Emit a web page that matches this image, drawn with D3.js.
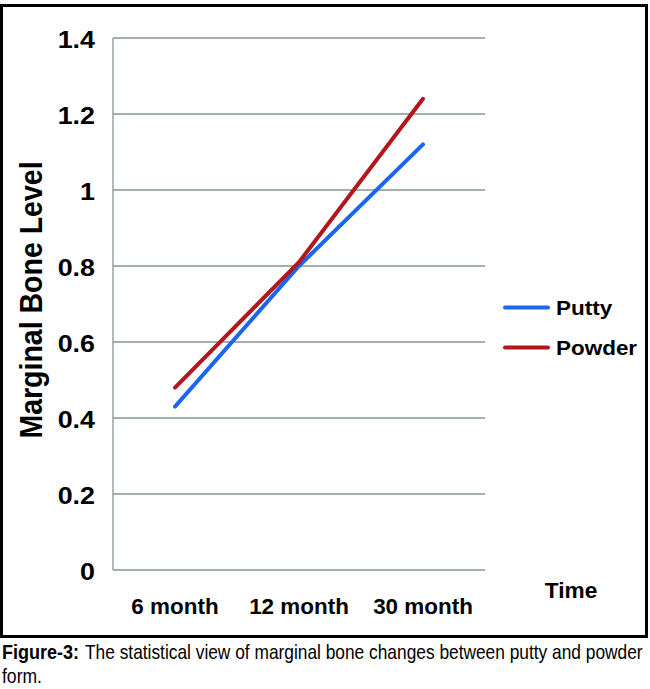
<!DOCTYPE html>
<html><head><meta charset="utf-8">
<script src="https://cdn.jsdelivr.net/npm/d3@7"></script>
<style>html,body{margin:0;padding:0;background:#fff;}svg{display:block;}</style>
</head><body>
<svg id="c" width="650" height="689"></svg>
<script>
const categories = ["6 month", "12 month", "30 month"];
const putty = [0.43, 0.80, 1.12];
const powder = [0.48, 0.81, 1.24];
const yTicks = [0, 0.2, 0.4, 0.6, 0.8, 1, 1.2, 1.4];
const seriesNames = ["Putty", "Powder"];
const seriesColors = ["#1a66f0", "#b3161c"];

(function () {
const svg = d3.select("#c");
const FONT = "'Liberation Sans', Arial, Helvetica, sans-serif";
const pLeft = 113, pRight = 485, pTop = 38, pBottom = 570;

const x = d3.scalePoint().domain(categories).range([pLeft, pRight]).padding(0.5);
const y = d3.scaleLinear().domain([0, 1.4]).range([pBottom, pTop]);

// frame
svg.append("rect").attr("x", 1.5).attr("y", 5.5).attr("width", 645).attr("height", 631)
  .attr("fill", "none").attr("stroke", "#000").attr("stroke-width", 3);

function stext(px, py, str, size, sx, anchor, rot) {
  const g = svg.append("g").attr("transform", `translate(${px},${py}) scale(${sx},1)` + (rot ? ` rotate(${rot})` : ""));
  return g.append("text").attr("x", 0).attr("y", 0).attr("text-anchor", anchor)
    .attr("font-family", FONT).attr("font-weight", "bold").attr("font-size", size)
    .attr("fill", "#000").text(str);
}

// gridlines
const gridColor = "#869690";
svg.append("g").selectAll("line").data(yTicks).join("line")
  .attr("x1", pLeft).attr("x2", pRight)
  .attr("y1", d => y(d)).attr("y2", d => y(d))
  .attr("stroke", gridColor).attr("stroke-width", 1.3);
svg.append("line").attr("x1", pLeft).attr("x2", pLeft).attr("y1", y(1.4)).attr("y2", y(0))
  .attr("stroke", gridColor).attr("stroke-width", 1.3);

// y tick labels
yTicks.forEach(t => {
  stext(95, y(t) + 9.5, String(Math.round(t * 10) / 10), 24, 1.12, "end");
});
// x labels
categories.forEach(c => stext(x(c), 614, c, 22, 1.02, "middle"));

// axis titles
stext(42, 300, "Marginal Bone Level", 28.5, 1.08, "middle", -90);
stext(571, 598, "Time", 22, 1.03, "middle");

// lines
const line = d3.line().x((d, i) => x(categories[i])).y(d => y(d));
[putty, powder].forEach((s, k) => {
  svg.append("path").datum(s).attr("d", line).attr("fill", "none")
    .attr("stroke", seriesColors[k]).attr("stroke-width", 4).attr("stroke-linecap", "round");
});

// legend
seriesNames.forEach((n, k) => {
  const ly = 307.5 + k * 40;
  svg.append("line").attr("x1", 505).attr("x2", 548).attr("y1", ly).attr("y2", ly)
    .attr("stroke", seriesColors[k]).attr("stroke-width", 4).attr("stroke-linecap", "round");
  stext(556, ly + 7.5, n, 21, 1.07, "start");
});

// caption: condensed by measuring natural width and scaling to target width
const CAP = "'Liberation Sans Narrow', 'Liberation Sans', Arial, sans-serif";
function ctext(px, py, str, weight, targetW) {
  const g = svg.append("g");
  const t = g.append("text").attr("x", 0).attr("y", 0).attr("font-family", CAP)
    .attr("font-weight", weight).attr("font-size", 20).attr("fill", "#000").text(str);
  const w = t.node().getComputedTextLength();
  g.attr("transform", `translate(${px},${py}) scale(${targetW / w},1)`);
}
ctext(2, 659, "Figure-3:", "bold", 77);
ctext(85, 659, "The statistical view of marginal bone changes between putty and powder", "normal", 558);
ctext(2, 683, "form.", "normal", 40);
})();
</script>
</body></html>
